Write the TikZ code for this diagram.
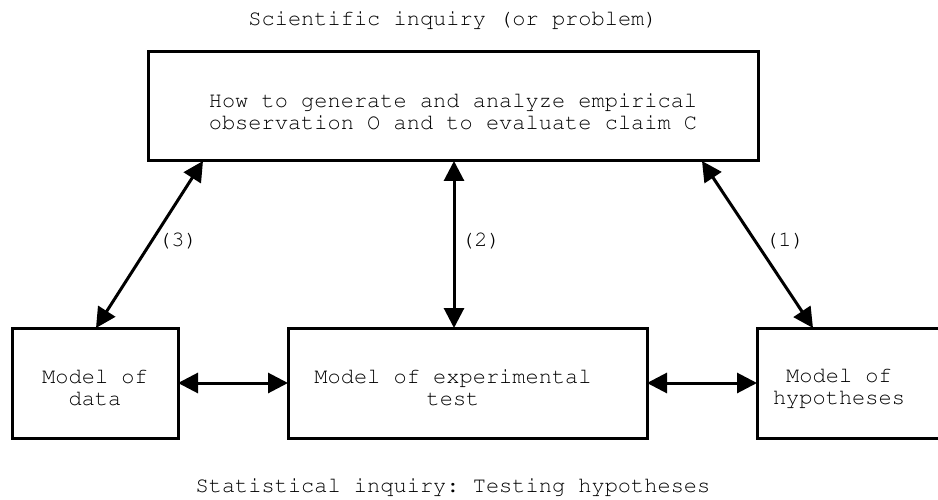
\documentclass[tikz,border=0pt]{standalone}
\usepackage[T1]{fontenc}
\usepackage{courier}
\renewcommand{\familydefault}{\ttdefault}
\frenchspacing
\usetikzlibrary{arrows.meta,calc}

\begin{document}
\begin{tikzpicture}[x=1pt,y=-1pt,
  box/.style={draw,line width=3pt,inner sep=0pt,outer sep=0pt},
  boxtext/.style={align=center,inner sep=0pt,font=\fontsize{22}{22}\selectfont},
  title/.style={inner sep=0pt,font=\fontsize{22}{26}\selectfont},
  num/.style={inner sep=0pt,font=\fontsize{22}{24}\selectfont},
  link/.style={line width=3pt,{Triangle[length=20pt,width=20pt]}-{Triangle[length=20pt,width=20pt]}}]

  \useasboundingbox (0,0) rectangle (938,500);

  % headings
  \node[title] (sci) at (453,20) {Scientific inquiry (or problem)};
  \node[title] (stat) at (453,487) {Statistical inquiry: Testing hypotheses};

  % boxes
  \node[box,minimum width=610pt,minimum height=109pt] (top) at (453,106.5) {};
  \node[boxtext] (toptext) at (453,112) {How to generate and analyze empirical\\observation O and to evaluate claim C};

  \node[box,minimum width=166pt,minimum height=110pt] (data) at (95,383) {};
  \node[boxtext] (datatext) at (95,388) {Model of\\data};

  \node[box,minimum width=359pt,minimum height=110pt] (test) at (467.5,383) {};
  \node[boxtext] (testtext) at (453,388) {Model of experimental\\test};

  \node[box,minimum width=200pt,minimum height=110pt] (hyp) at (857,383) {};
  \node[boxtext] (hyptext) at (839,388) {Model of\\hypotheses};

  % connectors
  \draw[link] ($(top.south west)+(55,0)$) -- ($(data.north west)+(84,0)$);
  \draw[link] ($(top.south west)+(306,0)$) -- ($(test.north west)+(166,0)$);
  \draw[link] ($(top.south east)+(-56,0)$) -- ($(hyp.north west)+(56,0)$);
  \draw[link] (data.east) -- (test.west);
  \draw[link] (test.east) -- (hyp.west);

  % connector labels
  \node[num] (l3) at (178,241) {(3)};
  \node[num] (l2) at (481,241) {(2)};
  \node[num] (l1) at (785,241) {(1)};
\end{tikzpicture}
\end{document}
